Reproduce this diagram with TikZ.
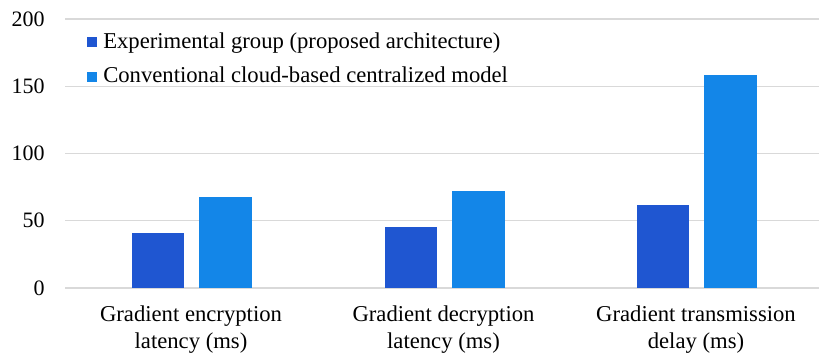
\documentclass[tikz,border=0pt]{standalone}
\usepackage{fontspec}
\setmainfont{Liberation Serif}
\definecolor{expblue}{HTML}{1F56D1}
\definecolor{convblue}{HTML}{1386E8}
\definecolor{gridgray}{HTML}{D9D9D9}
\begin{document}
\begin{tikzpicture}[
    x=0.75pt, y=0.75pt,
    tick/.style={anchor=east, inner sep=0pt, font=\fontsize{16.5}{18}\selectfont},
    catlabel/.style={anchor=north, align=center, inner sep=0pt, font=\fontsize{17}{20}\selectfont},
    legtext/.style={anchor=base west, inner sep=0pt, font=\fontsize{17}{18}\selectfont},
    swatch/.style={draw=none, inner sep=0pt, minimum size=8pt},
    gridline/.style={draw=gridgray, line width=0.9pt}
]
\useasboundingbox (0,0) rectangle (819,356);
\foreach \v/\name in {0/t0, 50/t50, 100/t100, 150/t150, 200/t200} {
    \draw[gridline] (65,{68+1.345*\v}) -- (819,{68+1.345*\v});
    \node[tick] (\name) at (45,{68+1.345*\v}) {\v};
}
\foreach \c/\a/\b/\name in {192/41/68/enc, 444.5/45/72/dec, 697/62/158/trans} {
    \fill[expblue] ({\c-60},68) rectangle ({\c-8},{68+1.345*\a});
    \fill[convblue] ({\c+7},68) rectangle ({\c+60},{68+1.345*\b});
}
\node[catlabel] (enc) at (191,50) {Gradient encryption\\latency (ms)};
\node[catlabel] (dec) at (443.5,50) {Gradient decryption\\latency (ms)};
\node[catlabel] (trans) at (696,50) {Gradient transmission\\delay (ms)};
\node[swatch, fill=expblue] (sw1) at (92,314) {};
\node[legtext] (leg1) at (103,307) {Experimental group (proposed architecture)};
\node[swatch, fill=convblue] (sw2) at (92,279) {};
\node[legtext] (leg2) at (103,273) {Conventional cloud-based centralized model};
\end{tikzpicture}
\end{document}
